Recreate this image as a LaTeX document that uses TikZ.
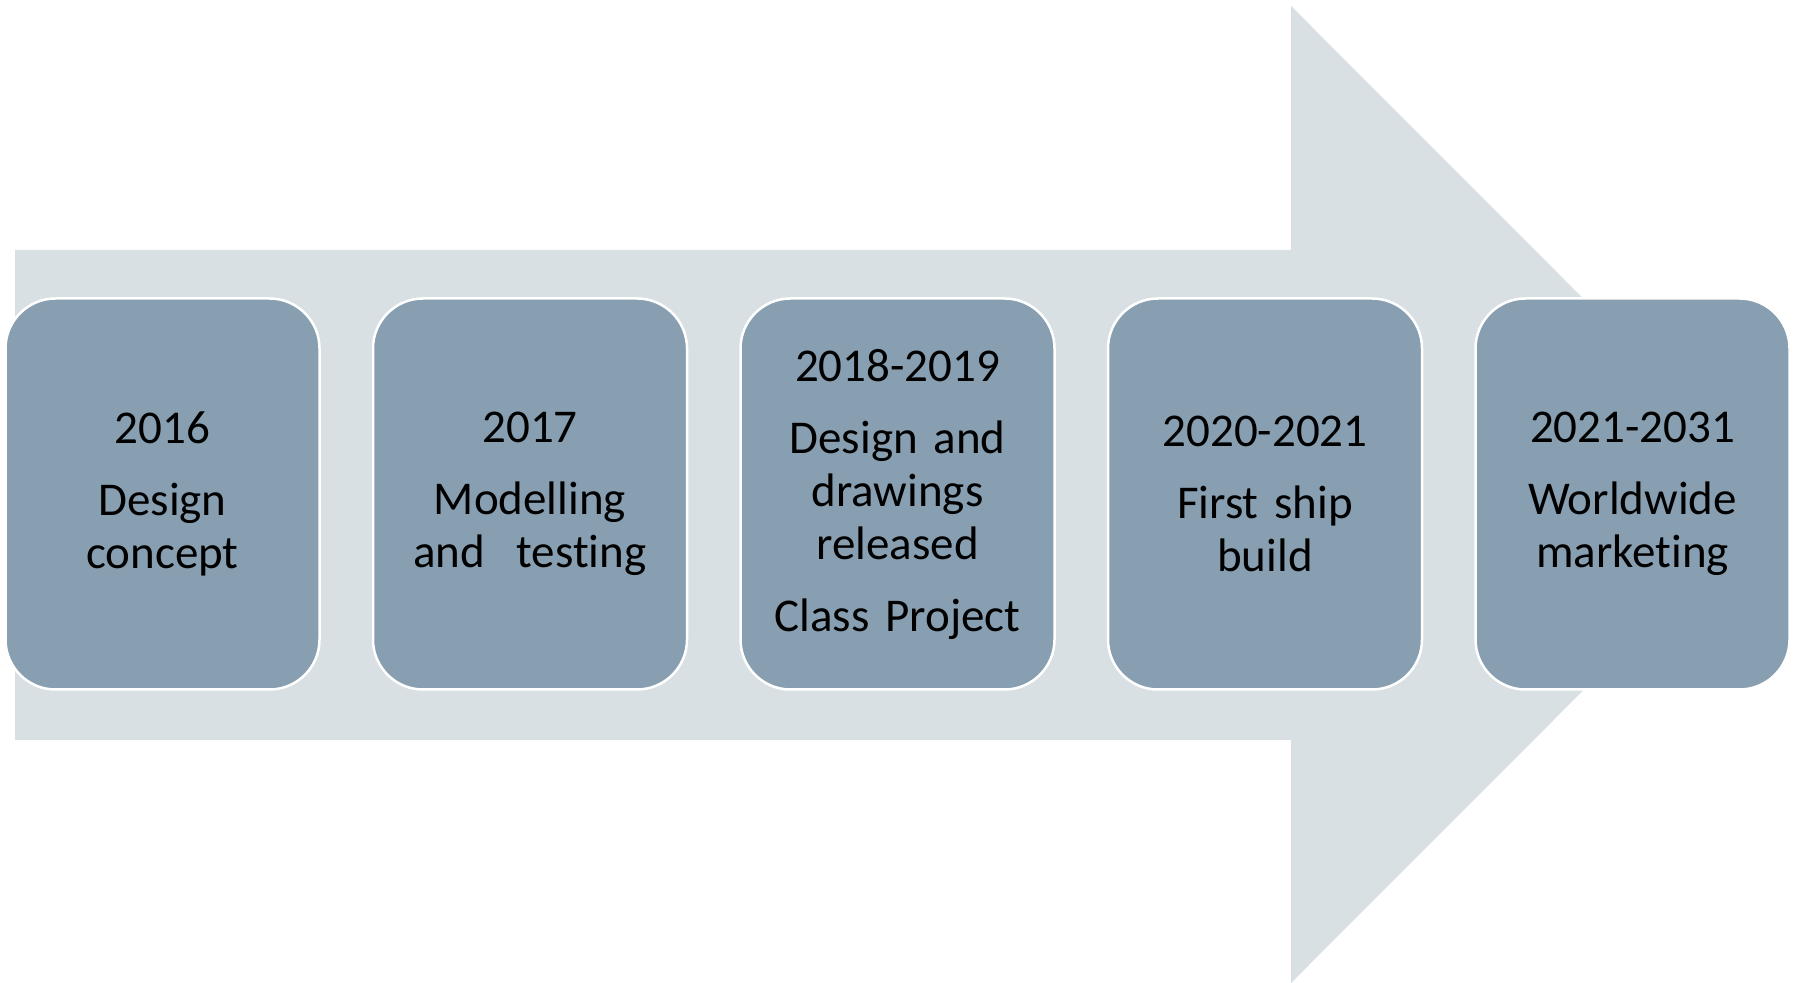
\documentclass[tikz,border=0pt]{standalone}
\usepackage{fontspec}
\setmainfont{Carlito}[Ligatures=NoCommon, WordSpace={0.6,0,0}]
\usetikzlibrary{positioning}
\definecolor{stepfill}{HTML}{879FB1}
\definecolor{bandfill}{HTML}{D8E0E4}
\tikzset{
  font=\fontsize{23.5}{26.5}\selectfont,
  phase/.style={
    draw=white,
    line width=1.25pt,
    fill=stepfill,
    rounded corners=25pt,
    align=center,
    text width=150pt,
    minimum width=157pt,
    minimum height=195.5pt,
    inner sep=0pt,
    outer sep=0pt
  },
  band/.style={
    fill=bandfill
  }
}

\begin{document}
\begin{tikzpicture}[x=0.5pt, y=-0.5pt, node distance=26.75pt]

\useasboundingbox (0,0) rectangle (1794,983);

% Background arrow
\fill[band] (15,250) -- (1291,250) -- (1291,6) -- (1779,494.5) -- (1291,983) -- (1291,740) -- (15,740) -- cycle;

% Phases
\node[phase] (p2016) at (162.5,494) {2016\\[9.5pt]Design\\concept};
\node[phase, right=of p2016] (p2017) {2017\\[9.5pt]Modelling\\and\ \ testing};
\node[phase, right=of p2017] (p2018) {2018-2019\\[9.5pt]Design and\\drawings\\released\\[9.5pt]Class Project};
\node[phase, right=of p2018] (p2020) {2020-2021\\[9.5pt]First ship\\build};
\node[phase, right=of p2020] (p2021) {2021-2031\\[9.5pt]Worldwide\\marketing};

\end{tikzpicture}
\end{document}
